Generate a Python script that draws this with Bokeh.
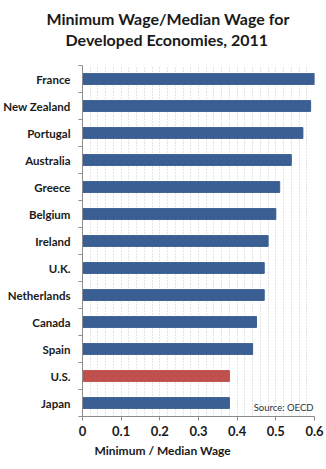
from bokeh.plotting import figure
from bokeh.models import FixedTicker, Label, ColumnDataSource, Range1d, Title
from bokeh.embed import file_html
from bokeh.resources import INLINE

countries = ["France", "New Zealand", "Portugal", "Australia", "Greece", "Belgium",
             "Ireland", "U.K.", "Netherlands", "Canada", "Spain", "U.S.", "Japan"]
ratios = [0.60, 0.59, 0.57, 0.54, 0.51, 0.50, 0.48, 0.47, 0.47, 0.45, 0.44, 0.38, 0.38]
highlight = "U.S."
x_ticks = [0, 0.1, 0.2, 0.3, 0.4, 0.5, 0.6]
x_tick_labels = ["0", "0.1", "0.2", "0.3", "0.4", "0.5", "0.6"]
grid_step = 0.02
title_lines = ["Minimum Wage/Median Wage for", "Developed Economies, 2011"]
x_label = "Minimum / Median Wage"
source_note = "Source: OECD"

FONT = "Lato"
BLUE = "#3B5F93"
RED = "#C0504D"

W, H = 326, 469

n = len(countries)
ypos = [n - 1 - i + 0.5 for i in range(n)]
colors = [RED if c == highlight else BLUE for c in countries]
src = ColumnDataSource(dict(country=countries, ratio=ratios, y=ypos, color=colors))

p = figure(width=W, height=H, output_backend="svg", toolbar_location=None,
           x_range=Range1d(0, 0.6), y_range=Range1d(0, n),
           min_border_left=81, min_border_right=12, min_border_top=0, min_border_bottom=53)
p.outline_line_color = None
p.background_fill_color = "white"
p.border_fill_color = "white"
p.title.visible = False

p.hbar(y="y", right="ratio", left=0, height=0.4, color="color", source=src)

# x axis
p.xaxis.ticker = FixedTicker(ticks=x_ticks)
p.xaxis.major_label_overrides = {t: l for t, l in zip(x_ticks, x_tick_labels)}
p.xaxis.major_label_text_font = FONT
p.xaxis.major_label_text_font_style = "bold"
p.xaxis.major_label_text_font_size = "13px"
p.xaxis.major_label_text_color = "#1a1a1a"
p.xaxis.major_tick_in = 0
p.xaxis.major_tick_out = 4
p.xaxis.minor_tick_line_color = None
p.xaxis.axis_line_color = "#8c8c8c"
p.xaxis.major_tick_line_color = "#8c8c8c"
p.xaxis.major_label_standoff = 5

# y axis
p.yaxis.ticker = FixedTicker(ticks=ypos, minor_ticks=list(range(n + 1)))
p.yaxis.major_label_overrides = {y: c for y, c in zip(ypos, countries)}
p.yaxis.major_label_text_font = FONT
p.yaxis.major_label_text_font_style = "bold"
p.yaxis.major_label_text_font_size = "11.5px"
p.yaxis.major_label_text_color = "#1a1a1a"
p.yaxis.major_tick_in = 0
p.yaxis.major_tick_out = 0
p.yaxis.minor_tick_in = 0
p.yaxis.minor_tick_out = 4
p.yaxis.minor_tick_line_color = "#8c8c8c"
p.yaxis.axis_line_color = "#8c8c8c"
p.yaxis.major_label_standoff = 8

# grid
p.ygrid.grid_line_color = None
nsteps = int(round(0.6 / grid_step))
p.xgrid.ticker = FixedTicker(ticks=[round(grid_step * i, 2) for i in range(1, nsteps + 1)])
p.xgrid.grid_line_color = "#c8c8c8"
p.xgrid.grid_line_dash = "1 2"
p.xgrid.grid_line_width = 1

# titles (added inner first; later ones stack outward; standoff pads the outer side)
p.add_layout(Title(text=" ", align="left", text_font=FONT, text_font_size="3px",
                   standoff=10), "above")
p.add_layout(Title(text=title_lines[1], align="left", offset=-17, text_font=FONT,
                   text_font_style="bold", text_font_size="16px", text_color="#1a1a1a",
                   standoff=1), "above")
p.add_layout(Title(text=title_lines[0], align="left", offset=-36, text_font=FONT,
                   text_font_style="bold", text_font_size="16px", text_color="#1a1a1a",
                   standoff=0), "above")
p.add_layout(Title(text=" ", align="left", text_font=FONT, text_font_size="3px",
                   standoff=0), "above")
p.add_layout(Title(text=x_label, align="left", offset=12, text_font=FONT,
                   text_font_style="bold", text_font_size="12px", text_color="#1a1a1a",
                   standoff=4), "below")

p.add_layout(Label(x=0.6, y=0.12, x_offset=-1, text=source_note,
                   text_font=FONT, text_font_size="9.5px", text_align="right",
                   text_baseline="bottom", text_color="#333333"))

open("out.html", "w").write(file_html(p, INLINE))
